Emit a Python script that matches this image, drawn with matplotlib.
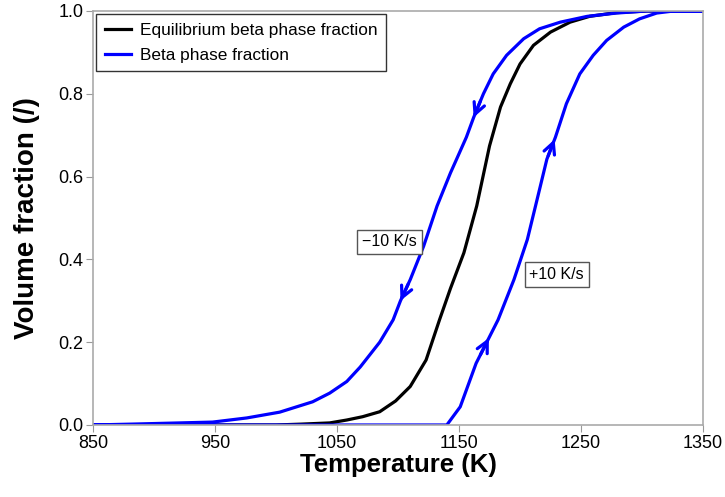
import numpy as np
import matplotlib
matplotlib.use('Agg')
import matplotlib.pyplot as plt

plt.rcParams['font.family'] = ['Liberation Sans', 'DejaVu Sans']

# equilibrium beta phase fraction vs temperature
t_eq = [850, 1000, 1020, 1044, 1058, 1071, 1085, 1098, 1110, 1123, 1134, 1143,
        1154, 1164.5, 1175, 1184, 1192, 1200, 1211, 1225, 1241, 1257, 1279, 1304, 1350]
f_eq = [0.0, 0.0, 0.002, 0.005, 0.012, 0.02, 0.032, 0.058, 0.093, 0.157, 0.254, 0.33,
        0.416, 0.529, 0.674, 0.768, 0.824, 0.872, 0.917, 0.949, 0.973, 0.987, 0.996, 1.0, 1.0]

# heating at +10 K/s
t_heat = [850, 1140, 1151, 1164, 1182, 1195, 1206, 1216, 1222, 1229, 1238, 1249,
          1260, 1271, 1285, 1298, 1312, 1326, 1350]
f_heat = [0.0, 0.0, 0.044, 0.149, 0.254, 0.351, 0.448, 0.569, 0.642, 0.695, 0.776, 0.848,
          0.893, 0.929, 0.961, 0.981, 0.995, 1.0, 1.0]

# cooling at -10 K/s
t_cool = [850, 880, 921, 948, 976, 1003, 1030, 1044, 1058, 1069, 1085, 1096, 1102,
          1110, 1121, 1132, 1143, 1148, 1156, 1162, 1170, 1178, 1189, 1203, 1216, 1233,
          1255, 1279, 1304, 1350]
f_cool = [0.0, 0.002, 0.005, 0.007, 0.017, 0.031, 0.056, 0.077, 0.105, 0.14, 0.2, 0.254, 0.30,
          0.351, 0.432, 0.529, 0.609, 0.642, 0.695, 0.743, 0.80, 0.848, 0.893, 0.933, 0.957, 0.973,
          0.987, 0.995, 1.0, 1.0]

# direction markers (volume fraction where the arrow head sits)
heat_arrows = [0.21, 0.69]
cool_arrows = [0.743, 0.30]

x_ticks = [850, 950, 1050, 1150, 1250, 1350]
y_ticks = [0.0, 0.2, 0.4, 0.6, 0.8, 1.0]

fig = plt.figure(figsize=(7.25, 4.97), dpi=100)
ax = fig.add_axes([0.1283, 0.1449, 0.8414, 0.8330])

ax.plot(t_eq, f_eq, color='black', lw=2.3, label='Equilibrium beta phase fraction')
# one series: heating up then cooling back down
ax.plot(t_heat + t_cool[::-1], f_heat + f_cool[::-1], color='#0000ff', lw=2.3,
        label='Beta phase fraction')


def arrow(ts, fs, f_tip, df):
    t_tip = np.interp(f_tip, fs, ts)
    t_tail = np.interp(f_tip - df, fs, ts)
    ax.annotate('', xy=(t_tip, f_tip), xytext=(t_tail, f_tip - df),
                arrowprops=dict(arrowstyle='->', color='#0000ff', lw=2.3,
                                mutation_scale=20, shrinkA=0, shrinkB=0))


for f in heat_arrows:
    arrow(t_heat[1:], f_heat[1:], f, 0.04)
for f in cool_arrows:
    arrow(t_cool, f_cool, f, -0.04)

box = dict(boxstyle='square,pad=0.3', fc='white', ec='#555555', lw=1)
ax.text(1093, 0.442, '\u221210 K/s', fontsize=11.5, ha='center', va='center', bbox=box)
ax.text(1230, 0.363, '+10 K/s', fontsize=11.5, ha='center', va='center', bbox=box)

ax.set_xlim(850, 1350)
ax.set_ylim(0, 1.0)
ax.set_xticks(x_ticks)
ax.set_yticks(y_ticks)
ax.set_yticklabels(['%.1f' % v for v in y_ticks])
ax.tick_params(direction='out', length=5, color='#999999', labelsize=13, pad=2)
for s in ax.spines.values():
    s.set_color('#aaaaaa')
    s.set_linewidth(1.2)

ax.set_xlabel('Temperature (K)', fontsize=18.5, fontweight='bold', labelpad=1)
ax.set_ylabel('Volume fraction (/)', fontsize=20, fontweight='bold', labelpad=13)

leg = ax.legend(loc='upper left', fontsize=12.4, fancybox=False, framealpha=1,
                edgecolor='#333333', borderaxespad=0.2, handlelength=1.5,
                handletextpad=0.5, borderpad=0.5, labelspacing=0.55)
leg.get_frame().set_linewidth(1.0)

fig.savefig('out.png', dpi=100)
